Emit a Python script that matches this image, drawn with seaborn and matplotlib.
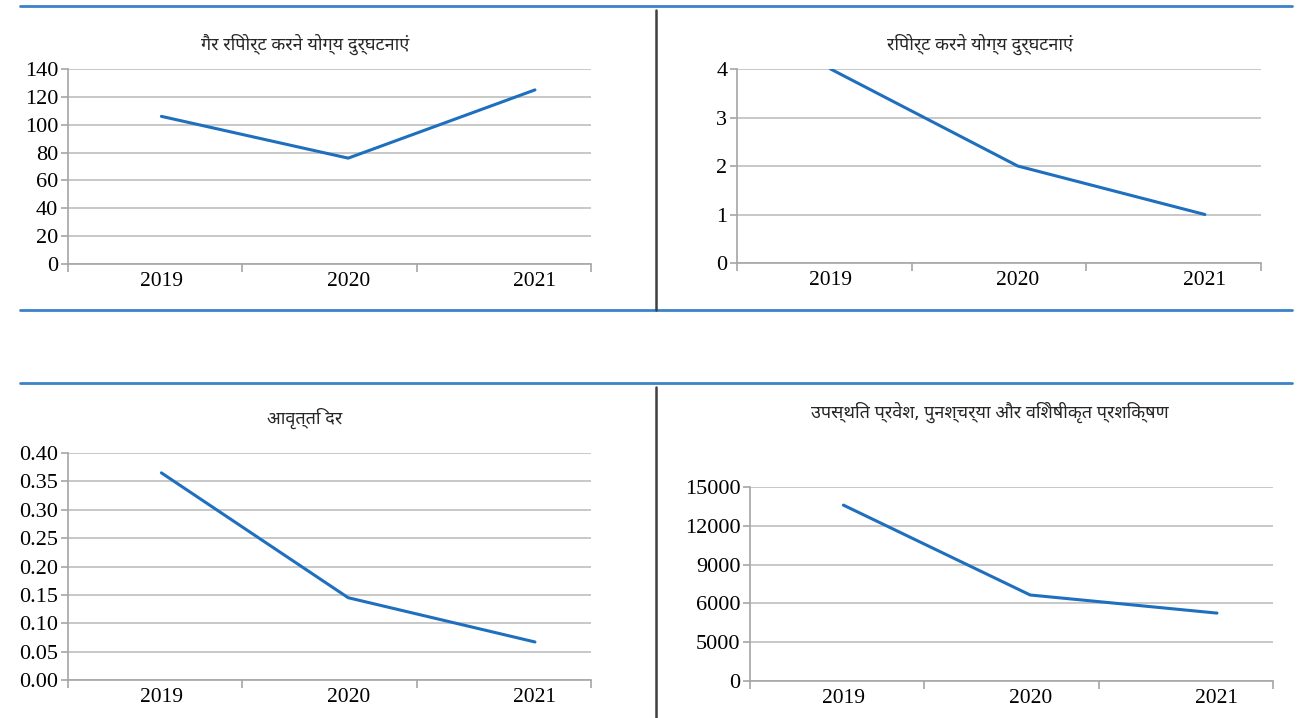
import numpy as np
import pandas as pd
import seaborn as sns
import matplotlib
matplotlib.use('Agg')
import matplotlib.pyplot as plt
from matplotlib import font_manager
from matplotlib.ft2font import FT2Font
from matplotlib.lines import Line2D

# data
years = ['2019', '2020', '2021']
titles = ['गैर रिपोर्ट करने योग्य दुर्घटनाएं',
          'रिपोर्ट करने योग्य दुर्घटनाएं',
          'आवृत्ति दर',
          'उपस्थित प्रवेश, पुनश्चर्या और विशेषीकृत प्रशिक्षण']
unreported = [106, 76, 125]
reported = [4, 2, 1]
freq_rate = [0.365, 0.145, 0.067]
training = [13600, 6650, 5250]

yticks_1 = [0, 20, 40, 60, 80, 100, 120, 140]
yticks_2 = [0, 1, 2, 3, 4]
yticks_3 = [0.0, 0.05, 0.10, 0.15, 0.20, 0.25, 0.30, 0.35, 0.40]
yticks_4 = [0, 3000, 6000, 9000, 12000, 15000]
ylabels_4 = ['0', '5000', '6000', '9000', '12000', '15000']


def find_font(ch, prefer=('Noto Sans Devanagari', 'Lohit Devanagari', 'Mangal')):
    names = {}
    for f in font_manager.fontManager.ttflist:
        try:
            if ord(ch) in FT2Font(f.fname).get_charmap():
                names[f.name] = True
        except Exception:
            pass
    for p in prefer:
        if p in names:
            return p
    if names:
        return sorted(names)[0]
    return 'DejaVu Sans'


sns.set_style('white')
plt.rcParams['font.family'] = ['Liberation Serif', 'DejaVu Serif']
deva = find_font('क')

W, H = 1310, 718
fig = plt.figure(figsize=(W / 100, H / 100), dpi=100)


def px(l, t, r, b):
    return [l / W, (H - b) / H, (r - l) / W, (b - t) / H]


panels = [
    (px(68, 69, 591, 264), unreported, yticks_1, [str(v) for v in yticks_1], (305, 44)),
    (px(737, 69, 1261, 263), reported, yticks_2, [str(v) for v in yticks_2], (980, 44)),
    (px(68, 453, 591, 680), freq_rate, yticks_3, ['%.2f' % v for v in yticks_3], (305, 418)),
    (px(750, 487, 1273, 681), training, yticks_4, ylabels_4, (990, 412)),
]

line_col = '#1f6fbf'
grid_col = '#bfbfbf'

for i, (rect, vals, yt, ylab, tpos) in enumerate(panels):
    ax = fig.add_axes(rect)
    df = pd.DataFrame({'year': years, 'value': vals})
    sns.lineplot(data=df, x='year', y='value', ax=ax, color=line_col, lw=2.2, sort=False)
    lo, hi = -0.5, 2.3
    ax.set_xlim(lo, hi)
    ax.set_ylim(yt[0], yt[-1])
    ax.set_yticks(yt)
    ax.set_yticklabels(ylab)
    ax.set_xticks([0, 1, 2])
    ax.set_xticklabels(years)
    ax.set_xticks(np.linspace(lo, hi, 4), minor=True)
    ax.set_xlabel('')
    ax.set_ylabel('')
    ax.yaxis.grid(True, color=grid_col, lw=1.2)
    ax.set_axisbelow(True)
    for s in ['top', 'right']:
        ax.spines[s].set_visible(False)
    for s in ['left', 'bottom']:
        ax.spines[s].set_color('#a6a6a6')
        ax.spines[s].set_linewidth(1.2)
    ax.tick_params(axis='y', which='major', left=True, length=5, width=1.2,
                   color='#a6a6a6', labelsize=16, pad=2, labelcolor='black')
    ax.tick_params(axis='x', which='major', bottom=False, length=0, labelsize=15.5,
                   pad=6, labelcolor='black')
    ax.tick_params(axis='x', which='minor', bottom=True, length=6, width=1.2,
                   color='#a6a6a6')
    fig.text(tpos[0] / W, 1 - tpos[1] / H, titles[i], ha='center', va='center',
             fontsize=13, family=[deva, 'DejaVu Sans'])

# frame lines around the panels
blue = '#3b82c8'
for yy in [6, 310, 383]:
    fig.add_artist(Line2D([20 / W, 1292 / W], [1 - yy / H, 1 - yy / H],
                          color=blue, lw=2, transform=fig.transFigure))
fig.add_artist(Line2D([656 / W, 656 / W], [1 - 10 / H, 1 - 310 / H],
                      color='#404040', lw=1.8, transform=fig.transFigure))
fig.add_artist(Line2D([656 / W, 656 / W], [1 - 387 / H, 0],
                      color='#404040', lw=1.8, transform=fig.transFigure))

fig.savefig('out.png', dpi=100)
